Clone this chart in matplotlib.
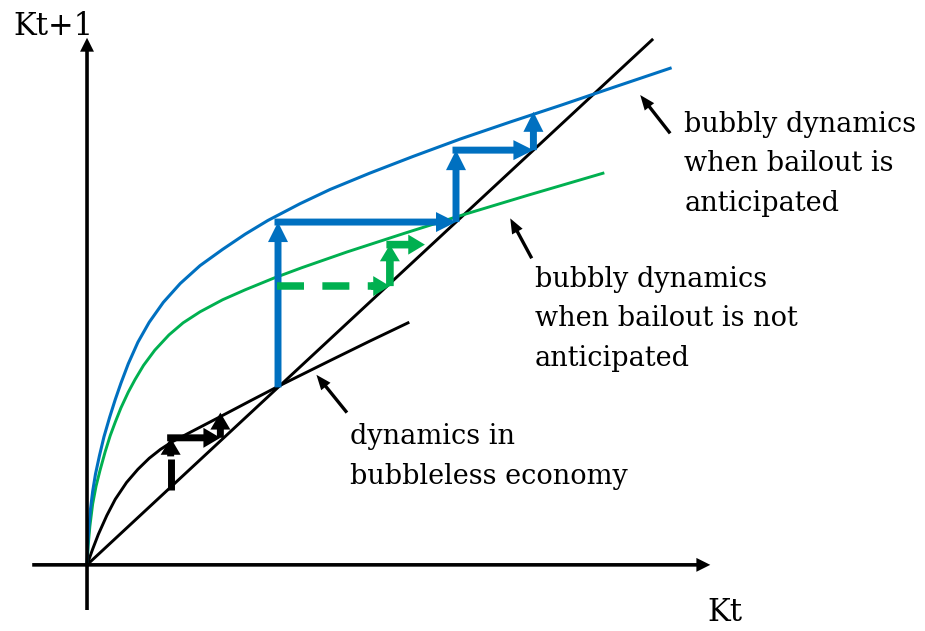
import matplotlib
matplotlib.use("Agg")
import matplotlib.pyplot as plt

# readings, in units where the 45-degree line runs to (100, 100)
# bubbly dynamics, bailout anticipated (blue)
k_blue = [0, 0.15, 0.35, 0.6, 1.0, 1.5, 2.2, 3.0, 4.0, 5.0, 6.0, 7.3, 9.0, 11.0, 13.5,
          16.5, 20.0, 24.0, 28.0, 32.0, 37.7, 43.0, 50.0, 57.7, 66.0, 75.0, 84.0, 93.0, 103.2]
kn_blue = [0, 4.0, 7.5, 10.5, 14.0, 17.3, 20.8, 24.4, 28.1, 31.5, 34.6, 38.3, 42.4, 46.2, 50.0,
           53.6, 57.0, 60.1, 63.0, 65.6, 68.8, 71.5, 74.6, 77.8, 81.1, 84.4, 87.6, 90.9, 94.6]

# bubbly dynamics, bailout not anticipated (green)
k_green = [0, 0.2, 0.5, 1.0, 1.6, 2.3, 3.2, 4.1, 5.0, 6.0, 7.3, 8.5, 10.0, 12.0, 14.5,
           17.0, 20.0, 24.0, 28.0, 33.0, 38.0, 46.0, 56.0, 66.0, 78.0, 91.3]
kn_green = [0, 3.6, 7.3, 11.6, 15.0, 18.0, 21.5, 24.6, 27.2, 29.9, 32.9, 35.3, 38.0, 40.9, 43.8,
            46.1, 48.2, 50.5, 52.4, 54.6, 56.6, 59.6, 63.1, 66.5, 70.4, 74.6]

# bubbleless economy (black)
k_black = [0, 1, 2, 3.5, 5, 7, 9, 11, 13, 15, 18, 23, 29, 34.2, 43, 50, 56.8]
kn_black = [0, 3.0, 5.8, 9.4, 12.5, 15.7, 18.2, 20.3, 22.0, 23.4, 25.1, 27.9, 31.3, 34.2,
            38.9, 42.6, 46.1]

# 45-degree line
k_diag = [0, 100]

# staircases (vertices)
stair_blue_x = [33.8, 33.8, 65.3, 65.3, 79.0, 79.0]
stair_blue_y = [33.8, 65.3, 65.3, 79.0, 79.0, 86.3]
stair_black_x = [14.8, 14.8, 23.6, 23.6]
stair_black_y = [14.3, 24.2, 24.2, 29.0]
stair_green_x = [33.6, 53.6, 53.6, 59.8]
stair_green_y = [53.1, 53.1, 61.0, 61.0]

# labels: (lines, x, first baseline, arrow tail, arrow tip)
notes = [
    (["dynamics in", "bubbleless economy"], 46.5, 23.0, (46.0, 29.0), (40.6, 36.2)),
    (["bubbly dynamics", "when bailout is not", "anticipated"], 79.3, 53.0, (78.7, 58.4), (74.9, 66.0)),
    (["bubbly dynamics", "when bailout is", "anticipated"], 105.7, 82.5, (103.2, 82.2), (97.9, 89.5)),
]

BLUE = "#0070C0"
GREEN = "#00B050"
FONT = "DejaVu Serif"

fig = plt.figure(figsize=(9.25, 6.31), dpi=100)
ax = fig.add_axes([0, 0, 1, 1])
ax.set_xlim(-15.4, 148.3)
ax.set_ylim(-12.6, 107.6)
ax.axis("off")

# pixels per data unit
sx = 925 / (148.3 + 15.4)
sy = 631 / (107.6 + 12.6)
MS = 10  # mutation scale in points


def arrow(x0, y0, x1, y1, color, tail, hw, hl, z=3):
    style = f"simple,head_length={hl},head_width={hw},tail_width={tail}"
    ax.annotate("", xy=(x1, y1), xytext=(x0, y0),
                arrowprops=dict(arrowstyle=style, color=color, lw=0,
                                shrinkA=0, shrinkB=0, mutation_scale=MS),
                zorder=z)


# axes
arrow(0, -8.6, 0, 100.4, "black", 0.26, 1.0, 1.0)
arrow(-9.7, 0, 110.3, 0, "black", 0.26, 1.0, 1.0)

# curves
ax.plot(k_diag, k_diag, color="black", lw=2.1, zorder=2)
ax.plot(k_black, kn_black, color="black", lw=2.1, zorder=2)
ax.plot(k_green, kn_green, color=GREEN, lw=2.1, zorder=2)
ax.plot(k_blue, kn_blue, color=BLUE, lw=2.2, zorder=2)

# blue staircase
for i in range(len(stair_blue_x) - 1):
    x0, y0 = stair_blue_x[i], stair_blue_y[i]
    x1, y1 = stair_blue_x[i + 1], stair_blue_y[i + 1]
    if y0 == y1:
        x0 -= 3.5 / sx
    arrow(x0, y0, x1, y1, BLUE, 0.5, 1.44, 1.44, z=4)

# black staircase: broken first step
x0, y0, x1, y1 = stair_black_x[0], stair_black_y[0], stair_black_x[1], stair_black_y[1]
dy = 17 / sy
ax.plot([x0, x0], [y0, y1 - dy - 4 / sy], color="black", lw=5, solid_capstyle="butt", zorder=4)
arrow(x0, y1 - dy - 0.3, x1, y1, "black", 0.5, 1.44, 1.22, z=4)
arrow(stair_black_x[1] - 3.5 / sx, stair_black_y[1], stair_black_x[2], stair_black_y[2],
      "black", 0.5, 1.44, 1.22, z=4)
arrow(stair_black_x[2], stair_black_y[2], stair_black_x[3], stair_black_y[3],
      "black", 0.5, 1.44, 1.22, z=4)

# green staircase: dashed first step
x0, y0, x1, y1 = stair_green_x[0], stair_green_y[0], stair_green_x[1], stair_green_y[1]
hx = 17 / sx
ax.plot([x0, x1 - hx], [y0, y1], color=GREEN, lw=5.4, dashes=(3.6, 2.45),
        solid_capstyle="butt", dash_capstyle="butt", zorder=4)
arrow(x1 - hx - 0.3, y1, x1, y1, GREEN, 0.55, 1.44, 1.2, z=4)
arrow(stair_green_x[1], stair_green_y[1], stair_green_x[2], stair_green_y[2],
      GREEN, 0.55, 1.44, 1.2, z=4)
arrow(stair_green_x[2] - 3.5 / sx, stair_green_y[2], stair_green_x[3], stair_green_y[3],
      GREEN, 0.55, 1.44, 1.2, z=4)

# annotations
step = 39.5 / sy
for lines, tx, ty, tail, tip in notes:
    for j, line in enumerate(lines):
        ax.text(tx, ty - j * step, line, fontsize=19.5, family=FONT, ha="left", va="baseline")
    arrow(tail[0], tail[1], tip[0], tip[1], "black", 0.24, 0.86, 1.08, z=5)

ax.text(-13.1, 101.0, "Kt+1", fontsize=22, family=FONT, ha="left", va="baseline")
ax.text(109.7, -10.7, "Kt", fontsize=22, family=FONT, ha="left", va="baseline")

fig.savefig("out.png", dpi=100)
